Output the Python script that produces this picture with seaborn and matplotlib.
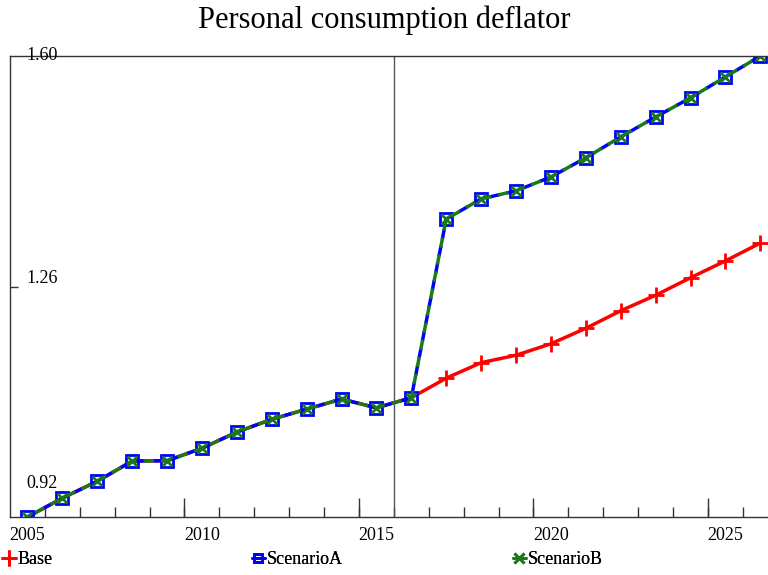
import numpy as np
import pandas as pd
import matplotlib
matplotlib.use('Agg')
import matplotlib.pyplot as plt
import matplotlib.transforms as mtransforms
from matplotlib.lines import Line2D
import seaborn as sns

sns.set_style('white')
plt.rcParams['font.family'] = ['Liberation Serif', 'DejaVu Serif']
plt.rcParams['text.color'] = 'black'
plt.rcParams['xtick.color'] = 'black'
plt.rcParams['ytick.color'] = 'black'

# data
years = list(range(2005, 2027))
history = [0.916, 0.944, 0.969, 0.999, 0.9995, 1.018, 1.042, 1.061, 1.076, 1.091, 1.078, 1.093]
base_future = [1.122, 1.145, 1.156, 1.173, 1.196, 1.222, 1.245, 1.271, 1.296, 1.3225]
scen_future = [1.358, 1.388, 1.400, 1.4205, 1.449, 1.480, 1.5095, 1.538, 1.569, 1.600]
base = history + base_future
scenario_a = history + scen_future
scenario_b = history + scen_future

ytick_vals = [0.916, 1.258, 1.600]
ytick_labels = ['0.92', '1.26', '1.60']
xlabel_years = [2005, 2010, 2015, 2020, 2025]
forecast_start = 2015.5

df = pd.DataFrame({'year': years, 'Base': base, 'ScenarioA': scenario_a, 'ScenarioB': scenario_b})

fig = plt.figure(figsize=(7.68, 5.75), dpi=100)
ax = fig.add_axes([10 / 768, 1 - 517 / 575, 1 - 10 / 768, (517 - 56) / 575])

sns.lineplot(data=df, x='year', y='Base', ax=ax, color='#ff0000', lw=2.5,
             marker='+', markersize=11, markeredgewidth=2, markeredgecolor='#ff0000',
             markevery=slice(len(history), None))
sns.lineplot(data=df, x='year', y='ScenarioA', ax=ax, color='#0000ff', lw=2.5,
             linestyle=(0, (3, 2)), marker='s', markersize=8, markerfacecolor='none',
             markeredgewidth=2, markeredgecolor='#0000ff')
sns.lineplot(data=df, x='year', y='ScenarioB', ax=ax, color='#1a7a1a', lw=2.5,
             linestyle=(2.5, (3, 2)), marker='x', markersize=7, markeredgewidth=2,
             markeredgecolor='#1a7a1a')

ax.axvline(forecast_start, color='#555555', lw=1)

ax.set_xlim(2004.5, 2026.22)
ax.set_ylim(ytick_vals[0], ytick_vals[-1])
ax.set_xlabel('')
ax.set_ylabel('')

for s in ['top', 'left', 'bottom']:
    ax.spines[s].set_visible(True)
    ax.spines[s].set_color('#333333')
    ax.spines[s].set_linewidth(1)
ax.spines['right'].set_visible(False)

# x ticks: labels at years, short ticks at period boundaries
ax.set_xticks(xlabel_years)
ax.set_xticklabels([str(y) for y in xlabel_years], fontsize=13)
ax.tick_params(axis='x', which='major', bottom=True, length=0, pad=7)
ax.set_xticks(np.arange(2005.5, 2026.5, 1.0), minor=True)
ax.tick_params(axis='x', which='minor', bottom=True, direction='in', length=7, width=1,
               color='#333333')
sec = ax.secondary_xaxis('bottom')
sec.set_xticks([2009.5, 2014.5, 2019.5, 2024.5])
sec.set_xticklabels([])
sec.tick_params(bottom=True, direction='in', length=14, width=1, color='#333333')
sec.spines['bottom'].set_visible(False)

# y ticks drawn inside, labels placed inside the plot
ax.set_yticks([ytick_vals[1]])
ax.set_yticklabels([])
ax.tick_params(axis='y', left=True, direction='in', length=6, width=1, color='#333333')
offsets = [0, 8, 34]
trans = mtransforms.blended_transform_factory(ax.transAxes, ax.transData)
for v, lab, off in zip(ytick_vals[::-1], ytick_labels[::-1], offsets):
    t = mtransforms.offset_copy(trans, fig=fig, x=0, y=off, units='dots')
    ax.text(16 / 758, v, lab, transform=t, fontsize=13, ha='left', va='center', color='black')

fig.text(0.5, 1 - 20 / 575, 'Personal consumption deflator', ha='center', va='center',
         fontsize=22, color='black')

# legend entries below the chart
entries = [
    ('Base', dict(color='#ff0000', marker='+', markersize=11, markeredgewidth=2, lw=0), 3 / 768),
    ('ScenarioA', dict(color='#0000ff', marker='s', markersize=6, markerfacecolor='none',
                       markeredgewidth=2, lw=2), 252 / 768),
    ('ScenarioB', dict(color='#1a7a1a', marker='x', markersize=7, markeredgewidth=2, lw=2), 513 / 768),
]
for name, kw, xpos in entries:
    h = Line2D([], [], **kw)
    leg = fig.legend([h], [name], loc='center left', bbox_to_anchor=(xpos, 1 - 560 / 575),
                     frameon=False, fontsize=13, handlelength=0.7, handletextpad=0.1,
                     borderpad=0, borderaxespad=0, labelcolor='black')
    fig.add_artist(leg)

fig.savefig('out.png', dpi=100)
